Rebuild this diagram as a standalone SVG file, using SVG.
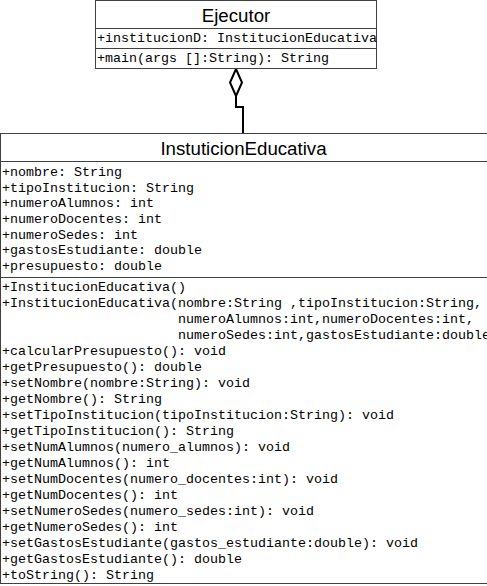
<svg xmlns="http://www.w3.org/2000/svg" width="487" height="586" viewBox="0 0 487 586">
<style>
.box{fill:#fff;stroke:#404040;stroke-width:1}
.sep{stroke:#404040;stroke-width:1}
.title{font-family:"Liberation Sans",Arial,sans-serif;font-size:18.7px;fill:#000;text-anchor:middle}
.m{font-family:"Liberation Mono","Courier New",monospace;font-size:13.33px;fill:#000;white-space:pre}
.conn{fill:none;stroke:#000;stroke-width:2}
</style>
<rect width="487" height="586" fill="#fff"/>
<g id="connectors">
<polyline class="conn" points="236,96 236,107 243,107 243,133"/>
<polygon class="conn" points="236,69 242,82.5 236,96 230,82.5" fill="#fff"/>
</g>
<g id="Ejecutor">
<rect class="box" x="95.5" y="0.5" width="281" height="68"/>
<line class="sep" x1="95.5" y1="28.5" x2="376.5" y2="28.5"/>
<line class="sep" x1="95.5" y1="48.5" x2="376.5" y2="48.5"/>
<text class="title" x="236" y="22">Ejecutor</text>
<text class="m" x="97" y="42">+institucionD: InstitucionEducativa</text>
<text class="m" x="97" y="62">+main(args []:String): String</text>
</g>
<g id="InstuticionEducativa">
<rect class="box" x="0.5" y="133.5" width="490" height="450"/>
<line class="sep" x1="0.5" y1="161.5" x2="490" y2="161.5"/>
<line class="sep" x1="0.5" y1="277.5" x2="490" y2="277.5"/>
<text class="title" x="243.5" y="155">InstuticionEducativa</text>
<text class="m" x="2" y="176">+nombre: String</text>
<text class="m" x="2" y="191.7">+tipoInstitucion: String</text>
<text class="m" x="2" y="207.4">+numeroAlumnos: int</text>
<text class="m" x="2" y="223">+numeroDocentes: int</text>
<text class="m" x="2" y="238.7">+numeroSedes: int</text>
<text class="m" x="2" y="254.4">+gastosEstudiante: double</text>
<text class="m" x="2" y="270">+presupuesto: double</text>
<text class="m" x="2" y="291">+InstitucionEducativa()</text>
<text class="m" x="2" y="307">+InstitucionEducativa(nombre:String ,tipoInstitucion:String,</text>
<text class="m" x="178" y="323">numeroAlumnos:int,numeroDocentes:int,</text>
<text class="m" x="178" y="339">numeroSedes:int,gastosEstudiante:double</text>
<text class="m" x="2" y="355">+calcularPresupuesto(): void</text>
<text class="m" x="2" y="371">+getPresupuesto(): double</text>
<text class="m" x="2" y="387">+setNombre(nombre:String): void</text>
<text class="m" x="2" y="403">+getNombre(): String</text>
<text class="m" x="2" y="419">+setTipoInstitucion(tipoInstitucion:String): void</text>
<text class="m" x="2" y="435">+getTipoInstitucion(): String</text>
<text class="m" x="2" y="451">+setNumAlumnos(numero_alumnos): void</text>
<text class="m" x="2" y="467">+getNumAlumnos(): int</text>
<text class="m" x="2" y="483">+setNumDocentes(numero_docentes:int): void</text>
<text class="m" x="2" y="499">+getNumDocentes(): int</text>
<text class="m" x="2" y="515">+setNumeroSedes(numero_sedes:int): void</text>
<text class="m" x="2" y="531">+getNumeroSedes(): int</text>
<text class="m" x="2" y="547">+setGastosEstudiante(gastos_estudiante:double): void</text>
<text class="m" x="2" y="563">+getGastosEstudiante(): double</text>
<text class="m" x="2" y="579">+toString(): String</text>
</g>
</svg>
